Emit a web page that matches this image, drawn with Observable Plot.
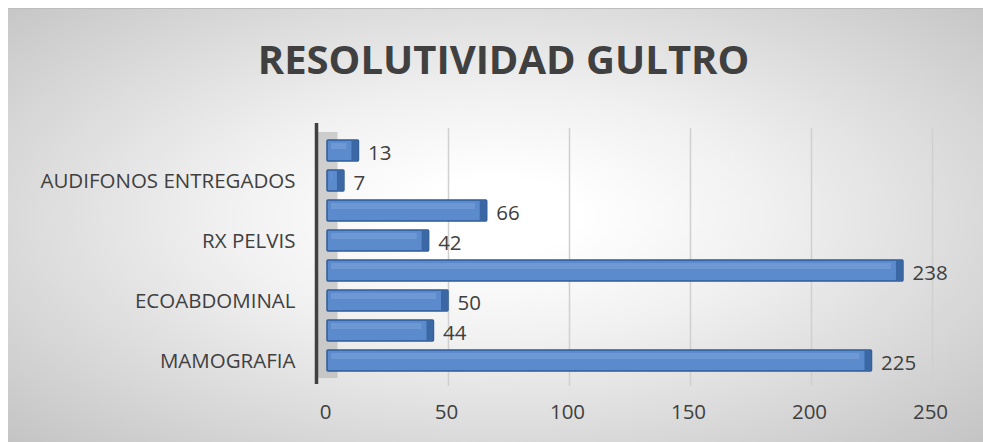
<!DOCTYPE html>
<html>
<head>
<meta charset="utf-8">
<script src="https://cdn.jsdelivr.net/npm/d3@7"></script>
<script src="https://cdn.jsdelivr.net/npm/@observablehq/plot@0.6"></script>
<style>
  html, body { margin: 0; padding: 0; background: #ffffff; }
  body { width: 983px; height: 442px; overflow: hidden; position: relative; }
  #chart {
    position: absolute; left: 8px; top: 8px; width: 975px; height: 434px;
    background: radial-gradient(ellipse farthest-corner at 50% 48%, #ffffff 12%, #f0f0f0 40%, #c4c4c4 100%);
    border-top: 1px solid #bdbdbd;
    box-sizing: border-box;
    font-family: "Open Sans", sans-serif;
  }
  #title {
    position: absolute; left: 8px; width: 975px; top: 30px;
    text-align: center; font-weight: 700; font-size: 40px; line-height: 40px;
    color: #404040; letter-spacing: 0px;
  }
  #plot { position: absolute; left: 0; top: 102px; }
  #plot svg { background: transparent; overflow: visible; }
</style>
</head>
<body>
<div id="chart">
  <div id="title">RESOLUTIVIDAD GULTRO</div>
  <div id="plot"></div>
</div>
<script>
// top-to-bottom order, as drawn
const categoryIds = [0, 1, 2, 3, 4, 5, 6, 7];
const categoryLabels = ["", "AUDIFONOS ENTREGADOS", "", "RX PELVIS", "", "ECOABDOMINAL", "", "MAMOGRAFIA"];
const values = [13, 7, 66, 42, 238, 50, 44, 225];
const xTicks = [0, 50, 100, 150, 200, 250];

const data = categoryIds.map((id, i) => ({id, label: categoryLabels[i], value: values[i]}));

const chart = Plot.plot({
  width: 975,
  height: 332,
  marginLeft: 319,
  marginRight: 51,
  marginTop: 21,
  marginBottom: 65,
  style: {fontFamily: "Open Sans, sans-serif", fontSize: "20.5px", color: "#404040", background: "transparent"},
  x: {domain: [0, 250], label: null},
  y: {domain: categoryIds, label: null, paddingInner: 0.3, paddingOuter: 0.15},
  marks: [
    Plot.gridX(xTicks.filter(d => d > 0), {stroke: "#d0d0d0", strokeOpacity: 1, strokeWidth: 1.5, insetTop: -4, insetBottom: -8}),
    Plot.ruleX([0], {stroke: "#a8a8a8", strokeWidth: 20, dx: 0, strokeOpacity: 0.5}),
    Plot.barX(data, {x: "value", y: "id", fill: "#5b8bcc", stroke: "#2f5b96", strokeWidth: 1.5, rx: 1}),
    Plot.barX(data, {x: "value", y: "id", fill: "#8fb2e0", fillOpacity: 0.35, insetTop: 3, insetBottom: 12, insetLeft: 4, insetRight: 12}),
    Plot.tickX(data, {x: "value", y: "id", stroke: "#3b67a5", strokeWidth: 7, dx: -4, insetTop: 1, insetBottom: 1}),
    Plot.ruleX([0], {stroke: "#404040", strokeWidth: 3.5, dx: -11, insetTop: -9, insetBottom: -6}),
    Plot.text(data, {x: "value", y: "id", text: d => String(d.value), textAnchor: "start", dx: 9, dy: 2,
                     fill: "#404040", fontSize: 20.5}),
    Plot.axisX({ticks: xTicks, tickSize: 0, tickPadding: 26, dx: -2, fill: "#404040"}),
    Plot.axisY({tickSize: 0, tickPadding: 32, tickFormat: d => categoryLabels[d], fill: "#404040"})
  ]
});
document.getElementById("plot").appendChild(chart);
</script>
</body>
</html>
